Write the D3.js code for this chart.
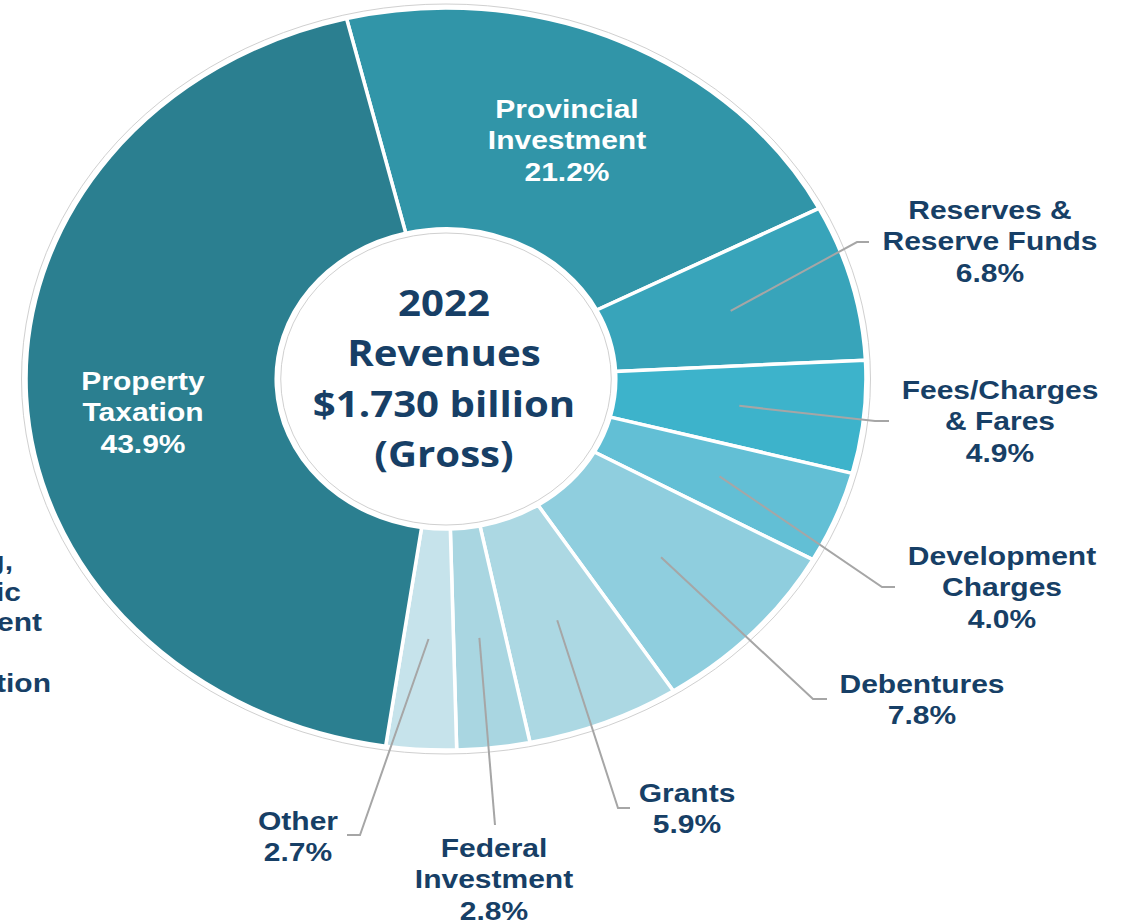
<!DOCTYPE html>
<html>
<head>
<meta charset="utf-8">
<script src="https://cdn.jsdelivr.net/npm/d3@7"></script>
<style>
  body { margin: 0; background: #fff; }
  svg { display: block; }
</style>
</head>
<body>
<div id="chart"></div>
<script>
// slices, clockwise from just left of twelve o'clock
const categories = ["Provincial Investment", "Reserves & Reserve Funds", "Fees/Charges & Fares",
    "Development Charges", "Debentures", "Grants", "Federal Investment", "Other", "Property Taxation"];
const shares = [21.2, 6.8, 4.9, 4.0, 7.8, 5.9, 2.8, 2.7, 43.9];
const labelLines = [["Provincial", "Investment"], ["Reserves &", "Reserve Funds"], ["Fees/Charges", "& Fares"],
    ["Development", "Charges"], ["Debentures"], ["Grants"], ["Federal", "Investment"], ["Other"], ["Property", "Taxation"]];
const centerLines = ["2022", "Revenues", "$1.730 billion", "(Gross)"];
// neighbouring chart's label, cut off at the left edge
const clippedLines = ["Funding,", "Public", "Investment", "", "Taxation"];

const colors = ["#3195a8", "#38a4ba", "#3db3cb", "#62bfd5", "#8fcede", "#acd8e3", "#a9d6e1", "#c6e3eb", "#2b7f90"];

// label placement: centre x, first baseline, elbow of the leader line and its end x
const labelLayout = [
    { x: 567, y: 118, inside: true },
    { x: 990, y: 219, elbow: [857, 242], end: 869 },
    { x: 1000, y: 399, elbow: [875, 421], end: 889 },
    { x: 1002, y: 565, elbow: [882, 587], end: 895 },
    { x: 922, y: 693, elbow: [813, 699], end: 827 },
    { x: 687, y: 802, elbow: [618, 808], end: 630 },
    { x: 494, y: 857, elbow: [495, 825], end: 495 },
    { x: 298, y: 830, elbow: [360, 835], end: 347 },
    { x: 143, y: 390, inside: true }
];
const clipEnds = [13, 21, 42, 0, 51];

const width = 1125, height = 924;
const cx = 446, cy = 379;
const outerR = 371, innerR = 150;
const stretch = 1.132;          // the picture is wider than it is tall
const textStretch = 1.2;
const lineH = 31.5;
const navy = "#173f66";

const svg = d3.select("#chart").append("svg")
    .attr("width", width)
    .attr("height", height);

const pie = d3.pie()
    .sort(null)
    .value(d => d)
    .startAngle(-13.7 * Math.PI / 180)
    .endAngle(-13.7 * Math.PI / 180 + 2 * Math.PI);

const arcs = pie(shares);

const arc = d3.arc()
    .innerRadius(innerR)
    .outerRadius(outerR);

let ring = svg.append("g")
    .attr("transform", "translate(" + cx + "," + cy + ") scale(" + stretch + ",1)");

// faint outline round the whole donut
ring.append("circle")
    .attr("r", outerR + 4)
    .attr("fill", "#fff")
    .attr("stroke", "#d0d0d0")
    .attr("stroke-width", 1)
    .attr("vector-effect", "non-scaling-stroke");

ring.selectAll("path.slice")
    .data(arcs)
    .enter()
    .append("path")
        .attr("class", "slice")
        .attr("d", arc)
        .attr("fill", (d, i) => colors[i])
        .attr("stroke", "#fff")
        .attr("stroke-width", 3.5)
        .attr("stroke-linejoin", "round")
        .attr("vector-effect", "non-scaling-stroke");

// white hole with its thin grey edge
ring.append("circle")
    .attr("r", innerR - 1)
    .attr("fill", "#fff");
ring.append("circle")
    .attr("r", innerR - 4)
    .attr("fill", "#fff")
    .attr("stroke", "#d0d0d0")
    .attr("stroke-width", 1)
    .attr("vector-effect", "non-scaling-stroke");

function toPage(p) {
    return [cx + p[0] * stretch, cy + p[1]];
}

// leader lines from slice centroids
let leaders = svg.append("g");
arcs.forEach(function (d, i) {
    let lay = labelLayout[i];
    if (lay.inside) return;
    let start = toPage(arc.centroid(d));
    let pts = [start, lay.elbow, [lay.end, lay.elbow[1]]];
    leaders.append("path")
        .attr("d", d3.line()(pts))
        .attr("fill", "none")
        .attr("stroke", "#a6a6a6")
        .attr("stroke-width", 2);
});

let fmt = d3.format(".1f");

function addLabel(lines, x, y, color, anchor) {
    let t = svg.append("text")
        .attr("transform", "translate(" + x + "," + y + ") scale(" + textStretch + ",1)")
        .attr("text-anchor", anchor || "middle")
        .style("font-family", "'Liberation Sans', Arial, sans-serif")
        .style("font-weight", "bold")
        .style("font-size", "25px")
        .attr("fill", color);
    lines.forEach(function (l, k) {
        t.append("tspan")
            .attr("x", 0)
            .attr("y", k * lineH)
            .text(l);
    });
    return t;
}

arcs.forEach(function (d, i) {
    let lay = labelLayout[i];
    let lines = labelLines[i].concat([fmt(shares[i]) + "%"]);
    addLabel(lines, lay.x, lay.y, lay.inside ? "#fff" : navy);
});

// cut-off label from the chart next door
clippedLines.forEach(function (l, k) {
    if (!l) return;
    addLabel([l], clipEnds[k], 570 + k * 30.5, navy, "end");
});

// centre title
let title = svg.append("text")
    .attr("transform", "translate(" + (cx - 2) + ",316) scale(" + stretch + ",1)")
    .attr("text-anchor", "middle")
    .style("font-family", "'Open Sans', sans-serif")
    .style("font-weight", "bold")
    .style("font-size", "35.5px")
    .attr("fill", navy);
centerLines.forEach(function (l, k) {
    title.append("tspan")
        .attr("x", 0)
        .attr("y", k * 50.5)
        .text(l);
});
</script>
</body>
</html>
